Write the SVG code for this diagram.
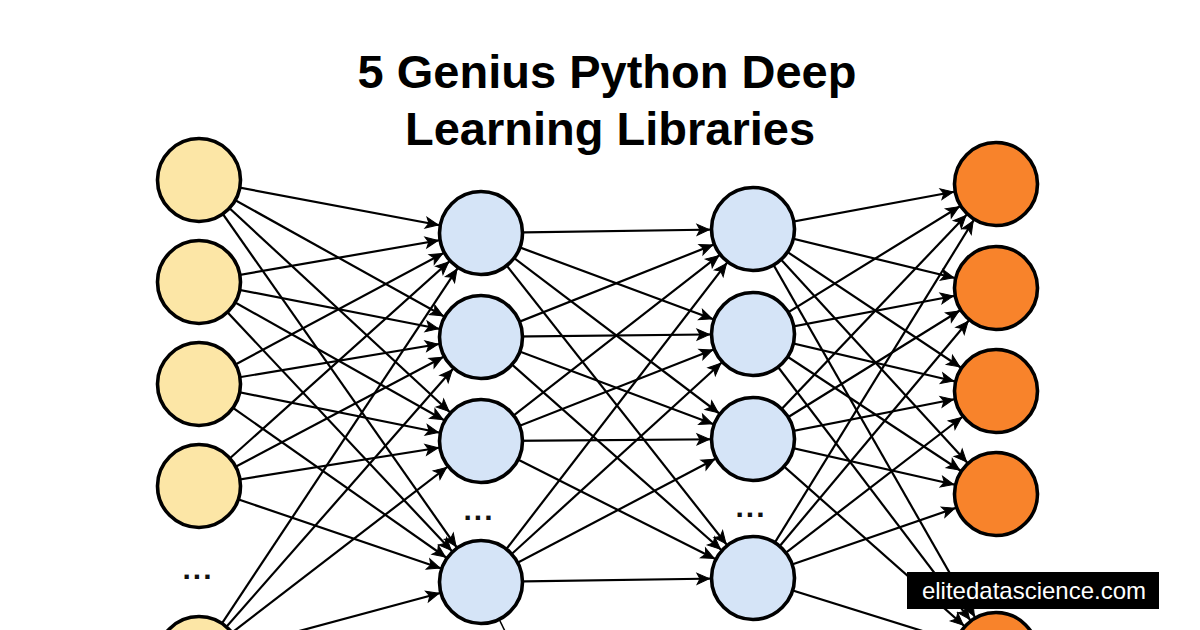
<svg xmlns="http://www.w3.org/2000/svg" width="1200" height="630" viewBox="0 0 1200 630">
<defs>
<style>
.e{stroke:#000;stroke-width:2.2;fill:none;marker-end:url(#ah)}
.n{stroke:#000;stroke-width:3.6}
.in{fill:#FCE6A6}
.hd{fill:#D5E4F7}
.out{fill:#F8832B}
.title{font-family:"Liberation Sans",Arial,sans-serif;font-weight:bold;font-size:47px;fill:#000}
.dots{font-family:"Liberation Sans",Arial,sans-serif;font-weight:bold;font-size:30px;fill:#111;letter-spacing:2px}
.wm{font-family:"Liberation Sans",Arial,sans-serif;font-size:24px;fill:#fff}
</style>
<marker id="ah" viewBox="-60 -10 70 20" refX="0" refY="0" markerWidth="70" markerHeight="20" markerUnits="userSpaceOnUse" orient="auto" overflow="visible">
<path d="M -43.5 0 L -56 -5.5 L -53 0 L -56 5.5 Z" fill="#000" stroke="#000" stroke-width="1" stroke-linejoin="miter"/>
</marker>
</defs>
<rect width="1200" height="630" fill="#fff"/>
<g id="connectors">
<line class="e" x1="199" y1="180" x2="481" y2="233"/>
<line class="e" x1="199" y1="180" x2="481" y2="337"/>
<line class="e" x1="199" y1="180" x2="481" y2="441"/>
<line class="e" x1="199" y1="180" x2="481" y2="582"/>
<line class="e" x1="199" y1="282" x2="481" y2="233"/>
<line class="e" x1="199" y1="282" x2="481" y2="337"/>
<line class="e" x1="199" y1="282" x2="481" y2="441"/>
<line class="e" x1="199" y1="282" x2="481" y2="582"/>
<line class="e" x1="199" y1="384" x2="481" y2="233"/>
<line class="e" x1="199" y1="384" x2="481" y2="337"/>
<line class="e" x1="199" y1="384" x2="481" y2="441"/>
<line class="e" x1="199" y1="384" x2="481" y2="582"/>
<line class="e" x1="199" y1="486" x2="481" y2="233"/>
<line class="e" x1="199" y1="486" x2="481" y2="337"/>
<line class="e" x1="199" y1="486" x2="481" y2="441"/>
<line class="e" x1="199" y1="486" x2="481" y2="582"/>
<line class="e" x1="199" y1="658" x2="481" y2="233"/>
<line class="e" x1="199" y1="658" x2="481" y2="337"/>
<line class="e" x1="199" y1="658" x2="481" y2="441"/>
<line class="e" x1="199" y1="658" x2="481" y2="582"/>
<line class="e" x1="481" y1="233" x2="753" y2="229"/>
<line class="e" x1="481" y1="233" x2="753" y2="334"/>
<line class="e" x1="481" y1="233" x2="753" y2="439"/>
<line class="e" x1="481" y1="233" x2="753" y2="578"/>
<line class="e" x1="481" y1="337" x2="753" y2="229"/>
<line class="e" x1="481" y1="337" x2="753" y2="334"/>
<line class="e" x1="481" y1="337" x2="753" y2="439"/>
<line class="e" x1="481" y1="337" x2="753" y2="578"/>
<line class="e" x1="481" y1="441" x2="753" y2="229"/>
<line class="e" x1="481" y1="441" x2="753" y2="334"/>
<line class="e" x1="481" y1="441" x2="753" y2="439"/>
<line class="e" x1="481" y1="441" x2="753" y2="578"/>
<line class="e" x1="481" y1="582" x2="753" y2="229"/>
<line class="e" x1="481" y1="582" x2="753" y2="334"/>
<line class="e" x1="481" y1="582" x2="753" y2="439"/>
<line class="e" x1="481" y1="582" x2="753" y2="578"/>
<line x1="481" y1="582" x2="520" y2="662" stroke="#000" stroke-width="1.5"/>
<line class="e" x1="753" y1="229" x2="996" y2="184"/>
<line class="e" x1="753" y1="229" x2="996" y2="288"/>
<line class="e" x1="753" y1="229" x2="996" y2="391"/>
<line class="e" x1="753" y1="229" x2="996" y2="494"/>
<line class="e" x1="753" y1="229" x2="996" y2="654"/>
<line class="e" x1="753" y1="334" x2="996" y2="184"/>
<line class="e" x1="753" y1="334" x2="996" y2="288"/>
<line class="e" x1="753" y1="334" x2="996" y2="391"/>
<line class="e" x1="753" y1="334" x2="996" y2="494"/>
<line class="e" x1="753" y1="334" x2="996" y2="654"/>
<line class="e" x1="753" y1="439" x2="996" y2="184"/>
<line class="e" x1="753" y1="439" x2="996" y2="288"/>
<line class="e" x1="753" y1="439" x2="996" y2="391"/>
<line class="e" x1="753" y1="439" x2="996" y2="494"/>
<line class="e" x1="753" y1="439" x2="996" y2="654"/>
<line class="e" x1="753" y1="578" x2="996" y2="184"/>
<line class="e" x1="753" y1="578" x2="996" y2="288"/>
<line class="e" x1="753" y1="578" x2="996" y2="391"/>
<line class="e" x1="753" y1="578" x2="996" y2="494"/>
<line class="e" x1="753" y1="578" x2="996" y2="654"/>
</g>
<g id="input-1"><circle class="n in" cx="199" cy="180" r="41.5"/></g>
<g id="input-2"><circle class="n in" cx="199" cy="282" r="41.5"/></g>
<g id="input-3"><circle class="n in" cx="199" cy="384" r="41.5"/></g>
<g id="input-4"><circle class="n in" cx="199" cy="486" r="41.5"/></g>
<g id="input-5"><circle class="n in" cx="199" cy="658" r="41.5"/></g>
<g id="hidden1-1"><circle class="n hd" cx="481" cy="233" r="41.5"/></g>
<g id="hidden1-2"><circle class="n hd" cx="481" cy="337" r="41.5"/></g>
<g id="hidden1-3"><circle class="n hd" cx="481" cy="441" r="41.5"/></g>
<g id="hidden1-4"><circle class="n hd" cx="481" cy="582" r="41.5"/></g>
<g id="hidden2-1"><circle class="n hd" cx="753" cy="229" r="41.5"/></g>
<g id="hidden2-2"><circle class="n hd" cx="753" cy="334" r="41.5"/></g>
<g id="hidden2-3"><circle class="n hd" cx="753" cy="439" r="41.5"/></g>
<g id="hidden2-4"><circle class="n hd" cx="753" cy="578" r="41.5"/></g>
<g id="output-1"><circle class="n out" cx="996" cy="184" r="41.5"/></g>
<g id="output-2"><circle class="n out" cx="996" cy="288" r="41.5"/></g>
<g id="output-3"><circle class="n out" cx="996" cy="391" r="41.5"/></g>
<g id="output-4"><circle class="n out" cx="996" cy="494" r="41.5"/></g>
<g id="output-5"><circle class="n out" cx="996" cy="654" r="41.5"/></g>
<g id="ellipses">
<text class="dots" x="198" y="579" text-anchor="middle">...</text>
<text class="dots" x="479" y="520" text-anchor="middle">...</text>
<text class="dots" x="751" y="517" text-anchor="middle">...</text>
</g>
<g id="title">
<text class="title" x="607" y="88" text-anchor="middle">5 Genius Python Deep</text>
<text class="title" x="610" y="145" text-anchor="middle">Learning Libraries</text>
</g>
<g id="watermark">
<rect x="907" y="572" width="252" height="37" fill="#000"/>
<text class="wm" x="1034" y="599" text-anchor="middle">elitedatascience.com</text>
</g>
</svg>
